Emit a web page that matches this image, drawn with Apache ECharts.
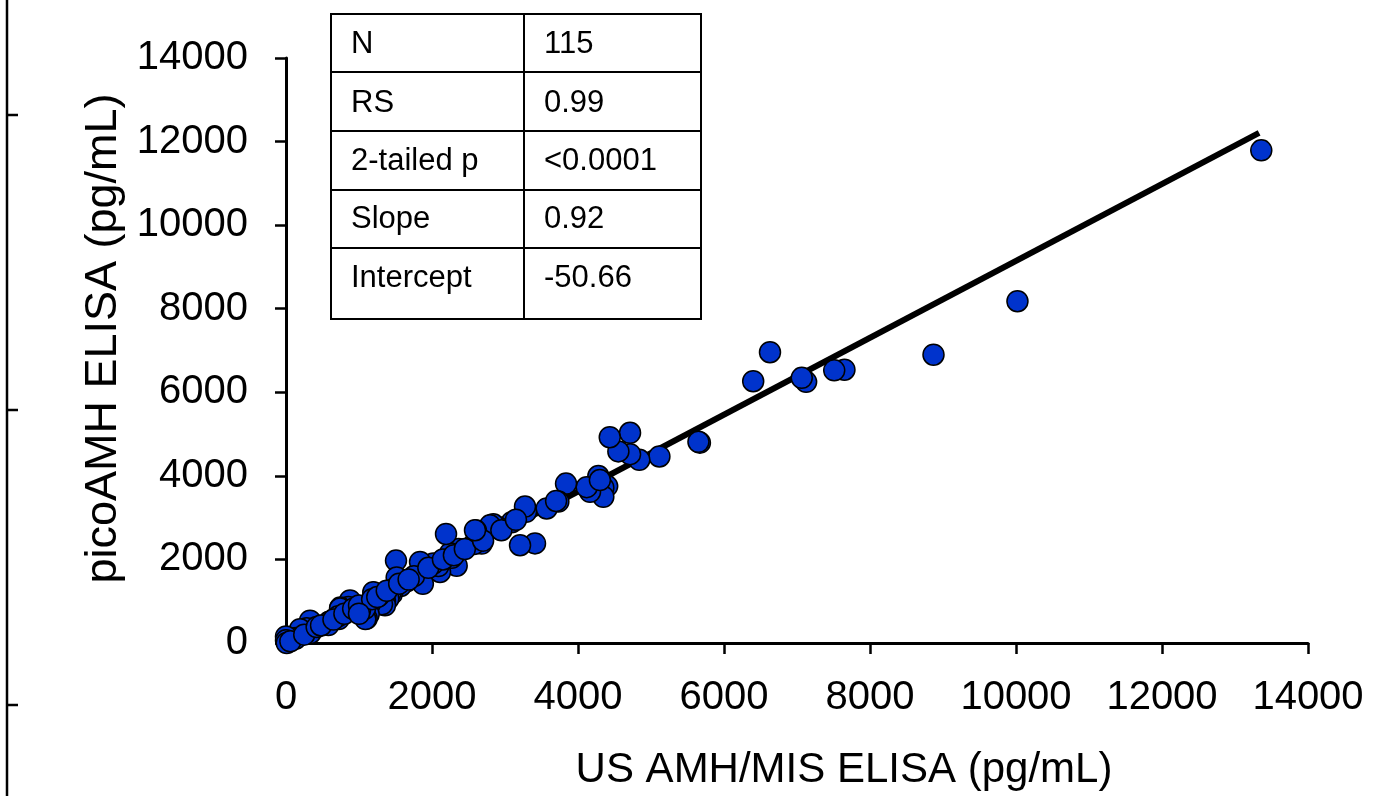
<!DOCTYPE html>
<html>
<head>
<meta charset="utf-8">
<script src="https://cdn.jsdelivr.net/npm/echarts@6/dist/echarts.min.js"></script>
<style>
    html, body { margin: 0; padding: 0; background: #fff; }
    #main { width: 1400px; height: 796px; }
</style>
</head>
<body>
<div id="main"></div>
<script>
    // US AMH/MIS ELISA (x) vs picoAMH ELISA (y), pg/mL
    var usAmh = [
        13360, 10020, 8870, 7650, 7510, 7125, 7065, 6630, 6400, 5670,
        5650, 5115, 4840, 4713, 4713, 4553, 4435, 4400, 4347, 4347,
        4279, 4165, 4119, 3836, 3731, 3571, 3288, 3274, 3411, 3206,
        3092, 2900, 2840, 2795, 2680, 2603, 2575, 2365, 2338, 2247,
        2269, 2192, 2110, 2087, 2018, 1836, 1875, 1753, 1653, 1571,
        1507, 1516, 1470, 1448, 1434, 1402, 1356, 1356, 1315, 1270,
        1201, 1196, 1151, 1133, 1105, 1087, 1082, 1014, 950, 881,
        877, 854, 744, 740, 722, 717, 594, 585, 580, 352,
        347, 333, 329, 283, 196, 192, 137, 128, 0, 0,
        10, 60, 250, 420, 480, 650, 800, 920, 1000, 1180,
        1250, 1380, 1550, 1680, 1950, 2150, 2300, 2450, 2700, 2950,
        3150, 3700, 4300, 1000, 2589
    ];
    var picoAmh = [
        11790, 8180, 6900, 6540, 6525, 6250, 6345, 6960, 6265, 4795,
        4815, 4465, 4385, 4520, 5030, 4585, 4925, 3755, 3718, 3500,
        3995, 3620, 3730, 3815, 3385, 3220, 3140, 3265, 2384, 2340,
        2890, 2775, 2840, 2816, 2380, 2690, 2369, 2251, 1850, 2149,
        2039, 2610, 1700, 1843, 1900, 1940, 1415, 1600, 1474, 1365,
        1972, 1568, 1287, 1169, 1216, 1059, 1000, 902, 925, 1121,
        1200, 1216, 941, 690, 588, 573, 824, 784, 769, 965,
        1020, 863, 847, 824, 573, 643, 510, 494, 431, 314,
        494, 235, 533, 353, 314, 329, 118, 102, 157, 63,
        0, 40, 200, 380, 420, 560, 700, 820, 900, 1050,
        1100, 1250, 1420, 1520, 1800, 2000, 2100, 2250, 2450, 2700,
        2950, 3400, 3900, 700, 2700
    ];

    // regression line ends
    var fitX = [60, 13330];
    var fitY = [0, 12210];

    var axisTicks = [0, 2000, 4000, 6000, 8000, 10000, 12000, 14000];

    var statNames = ['N', 'RS', '2-tailed p', 'Slope', 'Intercept'];
    var statValues = ['115', '0.99', '<0.0001', '0.92', '-50.66'];

    var points = usAmh.map(function (x, i) { return [x, picoAmh[i]]; });
    var fitLine = fitX.map(function (x, i) { return [x, fitY[i]]; });

    var font = '"Liberation Sans", Arial, sans-serif';

    // stats table drawn as graphic
    var rowTops = [14, 72, 131, 190, 248, 319];
    var tableLeft = 331, tableMid = 524, tableRight = 701;
    var tableEls = [];
    tableEls.push({
        type: 'rect',
        shape: {x: tableLeft, y: rowTops[0], width: tableRight - tableLeft, height: rowTops[5] - rowTops[0]},
        style: {fill: '#fff', stroke: '#000', lineWidth: 2}
    });
    tableEls.push({
        type: 'line',
        shape: {x1: tableMid, y1: rowTops[0], x2: tableMid, y2: rowTops[5]},
        style: {stroke: '#000', lineWidth: 2}
    });
    for (var r = 1; r < 5; r++) {
        tableEls.push({
            type: 'line',
            shape: {x1: tableLeft, y1: rowTops[r], x2: tableRight, y2: rowTops[r]},
            style: {stroke: '#000', lineWidth: 2}
        });
    }
    var textMid = [44, 103, 161, 219, 278];
    for (var k = 0; k < statNames.length; k++) {
        tableEls.push({
            type: 'text', x: 351, y: textMid[k],
            style: {text: statNames[k], fill: '#000', font: '31px ' + font, verticalAlign: 'middle'}
        });
        tableEls.push({
            type: 'text', x: 544, y: textMid[k],
            style: {text: statValues[k], fill: '#000', font: '31px ' + font, verticalAlign: 'middle'}
        });
    }

    // cropped axis at the far left edge of the figure
    var edgeEls = [
        {type: 'line', shape: {x1: 7, y1: 0, x2: 7, y2: 796}, style: {stroke: '#000', lineWidth: 2.5}},
        {type: 'line', shape: {x1: 7, y1: 115, x2: 18, y2: 115}, style: {stroke: '#000', lineWidth: 2.5}},
        {type: 'line', shape: {x1: 7, y1: 410, x2: 18, y2: 410}, style: {stroke: '#000', lineWidth: 2.5}},
        {type: 'line', shape: {x1: 7, y1: 705, x2: 18, y2: 705}, style: {stroke: '#000', lineWidth: 2.5}}
    ];

    var myChart = echarts.init(document.getElementById('main'));

    var axisCommon = {
        type: 'value',
        min: axisTicks[0],
        max: axisTicks[axisTicks.length - 1],
        interval: 2000,
        splitLine: {show: false},
        axisLine: {show: true, lineStyle: {color: '#000', width: 3}},
        axisTick: {show: true, inside: false, length: 11, lineStyle: {color: '#000', width: 2.5}},
        nameLocation: 'middle'
    };

    var option = {
        backgroundColor: '#fff',
        animation: false,
        grid: {left: 286, right: 92, top: 58, bottom: 143},
        xAxis: Object.assign({}, axisCommon, {
            name: 'US AMH/MIS ELISA (pg/mL)',
            nameGap: 106,
            nameTextStyle: {color: '#000', fontSize: 42, fontFamily: font, padding: [0, 0, 0, 94]},
            axisLabel: {color: '#000', fontSize: 40, fontFamily: font, margin: 35,
                formatter: function (v) { return String(v); }}
        }),
        yAxis: Object.assign({}, axisCommon, {
            name: 'picoAMH ELISA (pg/mL)',
            nameGap: 156,
            nameTextStyle: {color: '#000', fontSize: 45, fontFamily: font, padding: [0, 0, 0, 24]},
            axisLabel: {color: '#000', fontSize: 40, fontFamily: font, margin: 38,
                formatter: function (v) { return String(v); }}
        }),
        series: [
            {
                type: 'line',
                data: fitLine,
                symbol: 'none',
                lineStyle: {color: '#000', width: 6},
                z: 2
            },
            {
                type: 'scatter',
                data: points,
                symbol: 'circle',
                symbolSize: 21,
                itemStyle: {color: '#0033cc', borderColor: '#000', borderWidth: 1.5, opacity: 1},
                z: 3
            }
        ],
        graphic: edgeEls.concat(tableEls)
    };
    myChart.setOption(option);
</script>
</body>
</html>
